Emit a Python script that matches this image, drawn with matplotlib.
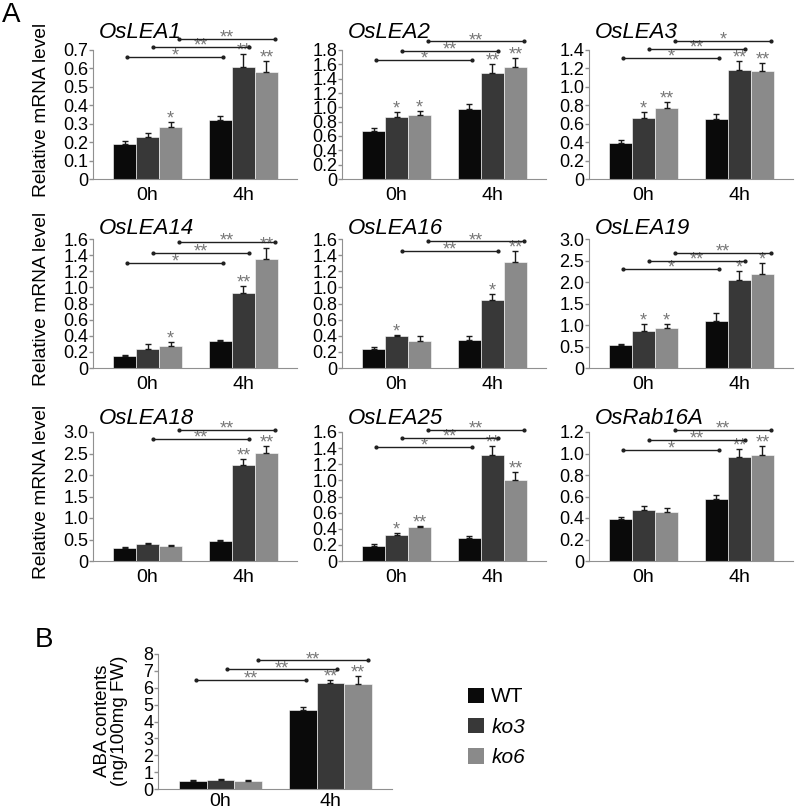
import numpy as np
import matplotlib
matplotlib.use('Agg')
import matplotlib.pyplot as plt
from matplotlib.patches import Patch

plt.rcParams['font.family'] = ['Liberation Sans', 'DejaVu Sans']

# ---- data (WT, ko3, ko6; each value pair is 0h, 4h) ----
groups = ['0h', '4h']
lines_ = ['WT', 'ko3', 'ko6']
colors = ['#0a0a0a', '#383838', '#8a8a8a']

genes = ['OsLEA1', 'OsLEA2', 'OsLEA3',
         'OsLEA14', 'OsLEA16', 'OsLEA19',
         'OsLEA18', 'OsLEA25', 'OsRab16A']
ymax  = [0.7, 1.8, 1.4, 1.6, 1.6, 3.0, 3.0, 1.6, 1.2]
ystep = [0.1, 0.2, 0.2, 0.2, 0.2, 0.5, 0.5, 0.2, 0.2]

wt_mean  = [[0.19, 0.32], [0.667, 0.973], [0.39, 0.65], [0.148, 0.334], [0.234, 0.348],
            [0.536, 1.094], [0.30, 0.46], [0.19, 0.29], [0.388, 0.575]]
ko3_mean = [[0.227, 0.608], [0.87, 1.476], [0.664, 1.18], [0.235, 0.932], [0.40, 0.84],
            [0.868, 2.05], [0.39, 2.23], [0.327, 1.31], [0.479, 0.964]]
ko6_mean = [[0.28, 0.583], [0.888, 1.56], [0.77, 1.173], [0.272, 1.35], [0.336, 1.31],
            [0.928, 2.19], [0.35, 2.52], [0.417, 1.01], [0.46, 0.985]]
wt_err   = [[0.015, 0.02], [0.05, 0.07], [0.03, 0.055], [0.015, 0.015], [0.025, 0.055],
            [0.02, 0.19], [0.03, 0.04], [0.015, 0.02], [0.02, 0.04]]
ko3_err  = [[0.02, 0.07], [0.06, 0.13], [0.06, 0.1], [0.06, 0.08], [0.015, 0.08],
            [0.15, 0.21], [0.04, 0.14], [0.025, 0.12], [0.03, 0.075]]
ko6_err  = [[0.03, 0.055], [0.055, 0.13], [0.07, 0.09], [0.05, 0.14], [0.065, 0.14],
            [0.1, 0.25], [0.03, 0.15], [0.015, 0.09], [0.035, 0.085]]
ko3_star = [['', '**'], ['*', '**'], ['*', '**'], ['', '**'], ['*', '*'],
            ['*', '*'], ['', '**'], ['*', '**'], ['', '**']]
ko6_star = [['*', '**'], ['*', '**'], ['**', '**'], ['*', '**'], ['', '**'],
            ['*', '*'], ['', '**'], ['**', '**'], ['', '**']]
# (line index, height, label) 0h vs 4h comparisons
brackets = [[(0, 0.664, '*'), (1, 0.718, '**'), (2, 0.76, '**')],
            [(0, 1.66, '*'), (1, 1.79, '**'), (2, 1.92, '**')],
            [(0, 1.31, '*'), (1, 1.41, '**'), (2, 1.50, '*')],
            [(0, 1.30, '*'), (1, 1.43, '**'), (2, 1.56, '**')],
            [(1, 1.455, '**'), (2, 1.57, '**')],
            [(0, 2.31, '*'), (1, 2.50, '**'), (2, 2.68, '**')],
            [(1, 2.83, '**'), (2, 3.05, '**')],
            [(0, 1.42, '*'), (1, 1.53, '**'), (2, 1.63, '**')],
            [(0, 1.034, '*'), (1, 1.13, '**'), (2, 1.22, '**')]]

aba_mean = [[0.49, 4.69], [0.55, 6.30], [0.49, 6.25]]
aba_err  = [[0.05, 0.15], [0.05, 0.15], [0.05, 0.45]]
aba_star = [['', ''], ['', '**'], ['', '**']]
aba_brk  = [(0, 6.46, '**'), (1, 7.09, '**'), (2, 7.62, '**')]

W, H = 797, 811
fig = plt.figure(figsize=(W / 100, H / 100), dpi=100)

def px_axes(left, top, w, h):
    return fig.add_axes([left / W, 1 - (top + h) / H, w / W, h / H])

def fmt(v, step):
    if v == 0:
        return '0'
    if step < 1:
        return '%.1f' % v
    return '%d' % v

def draw(ax, means, errs, stars, brks, top, step, bw, xpad=6):
    x = np.arange(len(groups))
    for i in range(3):
        ax.bar(x + (i - 1) * bw, means[i], bw, color=colors[i],
               edgecolor='white', linewidth=0.4, zorder=2)
        ax.errorbar(x + (i - 1) * bw, means[i], yerr=[[0, 0], errs[i]], fmt='none',
                    ecolor='#1a1a1a', elinewidth=1, capsize=2, capthick=1, zorder=3)
        for j in range(len(groups)):
            if stars[i][j]:
                ax.annotate(stars[i][j], (x[j] + (i - 1) * bw, means[i][j] + errs[i][j]),
                            xytext=(0, -4), textcoords='offset points', ha='center',
                            va='bottom', fontsize=13, color='#777777', annotation_clip=False)
    shift = [0.03, 0.06, 0.09]
    for (i, yb, lab) in brks:
        x0 = x[0] + (i - 1) * bw + shift[i]
        x1 = x[1] + (i - 1) * bw + shift[i]
        ax.plot([x0, x1], [yb, yb], color='#202020', lw=1, marker='o', ms=2,
                clip_on=False, zorder=4)
        ax.annotate(lab, ((x0 + x1) / 2, yb), xytext=(0, -5.5), textcoords='offset points',
                    ha='center', va='bottom', fontsize=13, color='#777777',
                    annotation_clip=False)
    ax.set_xlim(-0.57, 1.56)
    ax.set_ylim(0, top)
    ticks = np.round(np.arange(0, top + step / 2, step), 2)
    ax.set_yticks(ticks)
    ax.set_yticklabels([fmt(t, step) for t in ticks])
    ax.set_xticks(x)
    ax.set_xticklabels(groups)
    for s in ['top', 'right']:
        ax.spines[s].set_visible(False)
    for s in ['left', 'bottom']:
        ax.spines[s].set_color('#909090')
    ax.tick_params(axis='y', length=3, width=1, color='#909090', pad=0.5, labelsize=13)
    ax.tick_params(axis='x', length=0, pad=xpad, labelsize=14)

lefts = [93, 342, 589]
tops = [50, 239, 432]
title_off = [17, 10, 14]
for g in range(9):
    r, c = g // 3, g % 3
    ax = px_axes(lefts[c], tops[r], 204, 129)
    means = [wt_mean[g], ko3_mean[g], ko6_mean[g]]
    errs = [wt_err[g], ko3_err[g], ko6_err[g]]
    stars = [['', ''], ko3_star[g], ko6_star[g]]
    draw(ax, means, errs, stars, brackets[g], ymax[g], ystep[g], 0.24)
    fig.text((lefts[c] + 6) / W, 1 - (tops[r] - title_off[r]) / H, genes[g],
             fontsize=16, style='italic', ha='left', va='center')
    if c == 0:
        fig.text(42 / W, 1 - (tops[r] + 60) / H, 'Relative mRNA level',
                 rotation=90, fontsize=13.8, ha='center', va='center')

axb = px_axes(158, 654, 234, 135)
draw(axb, aba_mean, aba_err, aba_star, aba_brk, 8, 1, 0.252, xpad=3)
fig.text(111 / W, 1 - 721 / H, 'ABA contents\n(ng/100mg FW)', rotation=90,
         fontsize=13.5, ha='center', va='center', multialignment='center', linespacing=1.05)

fig.text(2 / W, 1 - 15 / H, 'A', fontsize=20, ha='left', va='center')
fig.text(35 / W, 1 - 640 / H, 'B', fontsize=20, ha='left', va='center')

handles = [Patch(facecolor=colors[i], edgecolor='none') for i in range(3)]
leg = fig.legend(handles, lines_, loc='upper left', bbox_to_anchor=(458 / W, 1 - 677 / H),
                 frameon=False, fontsize=15, handlelength=0.75, handleheight=0.75,
                 handletextpad=0.35, labelspacing=0.55, borderpad=0)
for t in leg.get_texts()[1:]:
    t.set_style('italic')

fig.savefig('out.png', dpi=100, facecolor='white')
